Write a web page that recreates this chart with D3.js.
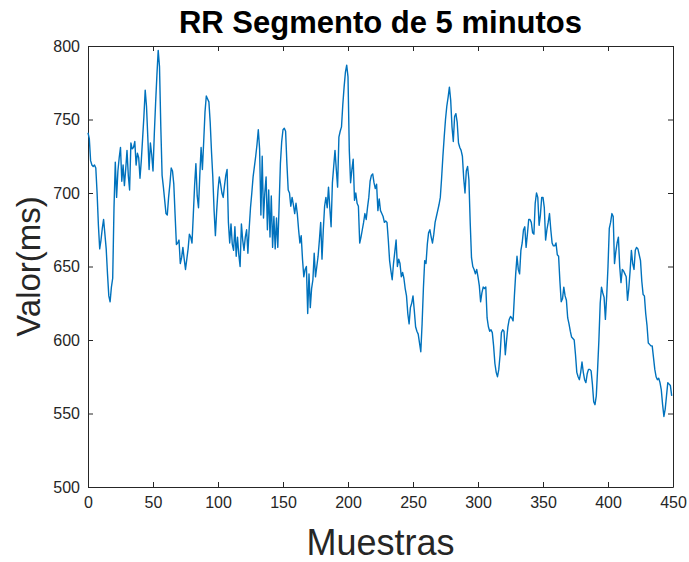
<!DOCTYPE html>
<html>
<head>
<meta charset="utf-8">
<script src="https://cdn.jsdelivr.net/npm/d3@7"></script>
<style>
  html, body { margin: 0; padding: 0; background: #ffffff; }
  svg { display: block; }
</style>
</head>
<body>
<svg id="chart" width="689" height="562"></svg>
<script>
// RR intervals (ms) for a 5-minute segment, one value per beat
const rrValues = [
  741,737,722,719,718,719,717,700,678,662,
  668,676,682,672,662,645,630,626,636,642,
  690,721,697,715,724,731,708,719,705,716,
  729,712,702,734,730,731,735,719,727,724,
  710,722,737,752,770,759,738,716,734,726,
  715,740,761,780,797,786,745,712,704,695,
  686,685,697,706,717,715,706,685,665,666,
  668,652,656,663,655,648,655,662,672,670,
  666,685,705,720,698,690,712,731,716,735,
  755,766,764,762,748,728,711,688,671,688,
  702,711,706,700,697,705,712,716,680,666,
  679,665,661,677,657,670,658,650,679,668,
  661,670,675,659,676,690,700,711,718,725,
  733,743,730,685,725,683,700,711,675,702,
  670,698,663,684,662,683,663,691,720,735,
  743,744,742,720,702,700,691,697,692,686,
  693,686,675,666,671,655,643,648,650,618,
  645,622,635,641,659,643,650,657,668,680,
  655,675,691,697,690,704,690,677,707,718,
  729,716,704,738,742,745,760,772,782,787,
  779,729,707,716,723,695,700,693,691,666,
  670,675,680,686,682,690,697,708,712,713,
  707,703,706,688,696,688,686,684,680,681,
  680,668,654,647,641,652,660,668,650,655,
  652,643,646,642,635,630,618,611,622,625,
  630,620,609,606,604,598,592,611,635,654,
  652,665,673,675,670,666,672,680,684,688,
  692,697,710,725,738,750,759,765,772,763,
  745,735,752,754,748,734,731,729,725,710,
  700,715,718,709,680,656,650,648,645,648,
  643,637,626,632,636,635,636,615,609,606,
  607,605,596,584,578,575,580,590,605,607,
  606,590,600,609,614,616,615,613,630,645,
  657,648,645,661,666,675,677,663,672,682,
  682,680,673,672,693,700,697,678,685,697,
  697,690,668,675,680,686,675,666,664,664,
  666,658,657,640,626,628,636,630,627,615,
  611,606,602,601,600,590,578,575,573,578,
  585,578,573,571,577,580,580,579,570,558,
  556,562,580,600,625,636,632,629,614,630,
  650,676,680,686,684,652,660,666,670,650,
  639,648,647,645,643,627,635,647,661,652,
  648,661,663,662,658,654,640,631,630,618,
  610,598,597,596,596,588,580,575,573,574,
  571,566,556,548,553,562,571,570,569,562
];

const xTicks = [0, 50, 100, 150, 200, 250, 300, 350, 400, 450];
const yTicks = [500, 550, 600, 650, 700, 750, 800];

const chartTitle = "RR Segmento de 5 minutos";
const xLabel = "Muestras";
const yLabel = "Valor(ms)";

const width = 689, height = 562;
const margin = { top: 46, right: 16, bottom: 75, left: 88 };
const innerW = width - margin.left - margin.right;
const innerH = height - margin.top - margin.bottom;

const svg = d3.select("#chart");
svg.append("rect").attr("width", width).attr("height", height).attr("fill", "#ffffff");

const g = svg.append("g").attr("transform", `translate(${margin.left},${margin.top})`);

const x = d3.scaleLinear().domain([0, 450]).range([0, innerW]);
const y = d3.scaleLinear().domain([500, 800]).range([innerH, 0]);

const fontFamily = '"Liberation Sans", Arial, Helvetica, sans-serif';
const tickLen = 5;
const axisColor = "#262626";

function styleAxis(sel) {
  sel.select(".domain").attr("stroke", axisColor).attr("stroke-width", 1);
  sel.selectAll(".tick line").attr("stroke", axisColor).attr("stroke-width", 1);
  sel.selectAll(".tick text")
    .attr("font-size", 16)
    .attr("font-family", fontFamily)
    .attr("fill", axisColor);
}

// bottom axis with labels, ticks pointing inward
g.append("g")
  .attr("transform", `translate(0,${innerH})`)
  .call(d3.axisBottom(x).tickValues(xTicks).tickSizeInner(-tickLen).tickSizeOuter(0).tickPadding(10))
  .call(styleAxis);

// top axis, ticks only
g.append("g")
  .call(d3.axisTop(x).tickValues(xTicks).tickSizeInner(-tickLen).tickSizeOuter(0).tickFormat(""))
  .call(styleAxis);

// left axis with labels
g.append("g")
  .call(d3.axisLeft(y).tickValues(yTicks).tickSizeInner(-tickLen).tickSizeOuter(0).tickPadding(8))
  .call(styleAxis);

// right axis, ticks only
g.append("g")
  .attr("transform", `translate(${innerW},0)`)
  .call(d3.axisRight(y).tickValues(yTicks).tickSizeInner(-tickLen).tickSizeOuter(0).tickFormat(""))
  .call(styleAxis);

// series line
const line = d3.line()
  .x((d, i) => x(i))
  .y(d => y(d));

g.append("path")
  .datum(rrValues)
  .attr("fill", "none")
  .attr("stroke", "#0072BD")
  .attr("stroke-width", 1.4)
  .attr("stroke-linejoin", "round")
  .attr("d", line);

// title
svg.append("text")
  .attr("x", margin.left + innerW / 2)
  .attr("y", 33)
  .attr("text-anchor", "middle")
  .attr("font-family", fontFamily)
  .attr("font-weight", "bold")
  .attr("font-size", 31)
  .attr("fill", "#000000")
  .text(chartTitle);

// x axis label
svg.append("text")
  .attr("x", margin.left + innerW / 2)
  .attr("y", 555)
  .attr("text-anchor", "middle")
  .attr("font-family", fontFamily)
  .attr("font-size", 36)
  .attr("fill", axisColor)
  .text(xLabel);

// y axis label
svg.append("text")
  .attr("transform", `translate(40,${margin.top + innerH / 2}) rotate(-90)`)
  .attr("text-anchor", "middle")
  .attr("font-family", fontFamily)
  .attr("font-size", 33)
  .attr("fill", axisColor)
  .text(yLabel);
</script>
</body>
</html>
